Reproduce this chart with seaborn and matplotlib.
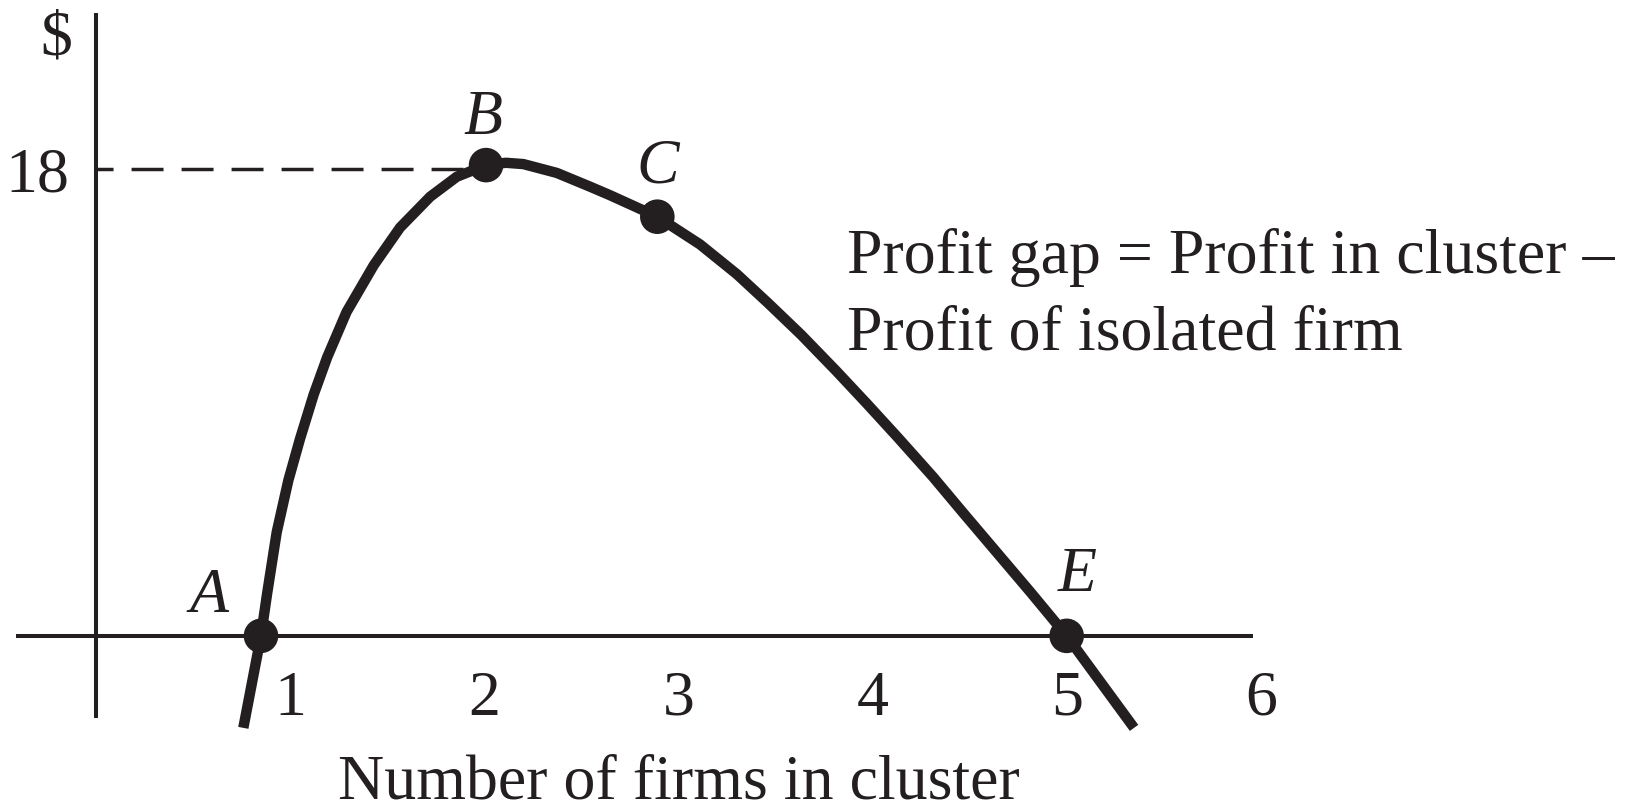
import matplotlib
matplotlib.use("Agg")
import matplotlib.pyplot as plt
import seaborn as sns
import pandas as pd

# ---- data ----
curve_x = [0.758, 0.849, 0.880, 0.930, 0.990, 1.050, 1.120, 1.190, 1.290, 1.430,
           1.565, 1.720, 1.857, 2.008, 2.110, 2.200, 2.372, 2.543, 2.646, 2.890,
           3.110, 3.300, 3.460, 3.630, 3.810, 3.970, 4.130, 4.310, 4.470, 4.640,
           4.810, 4.998, 5.345]
curve_y = [-3.55, 0.0, 1.6, 4.0, 6.0, 7.6, 9.3, 10.75, 12.5, 14.3,
           15.75, 16.94, 17.71, 18.16, 18.25, 18.2, 17.86, 17.33, 17.0, 16.17,
           15.1, 13.95, 12.84, 11.62, 10.23, 8.95, 7.64, 6.13, 4.7, 3.2,
           1.7, 0.0, -3.55]
point_labels = ["A", "B", "C", "E"]
point_x = [0.849, 2.008, 2.890, 4.998]
point_y = [0.0, 18.16, 16.17, 0.0]
x_ticks = [1, 2, 3, 4, 5, 6]
y_ticks = [18]
y_ref = 18
x_title = "Number of firms in cluster"
y_title = "$"
note_lines = ["Profit gap = Profit in cluster \u2013", "Profit of isolated firm"]

INK = "#231f20"
FS = 46

sns.set_theme(style="white")
plt.rcParams["font.family"] = ["Liberation Serif", "DejaVu Serif"]

W, H, DPI = 1637, 809, 100
fig = plt.figure(figsize=(W / DPI, H / DPI), dpi=DPI)
ax = fig.add_axes([0, 0, 1, 1])
ax.set_xlim(-0.495, 7.935)
ax.set_ylim(-6.68, 24.53)
ax.patch.set_alpha(0)

# axes drawn as spines through the origin
for s in ["top", "right"]:
    ax.spines[s].set_visible(False)
ax.spines["left"].set_position(("data", 0))
ax.spines["bottom"].set_position(("data", 0))
ax.spines["left"].set_bounds(-3.18, 24.04)
ax.spines["bottom"].set_bounds(-0.414, 5.957)
for s in ["left", "bottom"]:
    ax.spines[s].set_linewidth(2.9)
    ax.spines[s].set_color(INK)
    ax.spines[s].set_capstyle("butt")

ax.set_xticks(x_ticks)
ax.set_yticks(y_ticks)
ax.set_xticklabels([str(t) for t in x_ticks])
ax.set_yticklabels([str(t) for t in y_ticks])
ax.tick_params(axis="x", length=0, pad=25, labelsize=FS, colors=INK)
ax.tick_params(axis="y", length=0, pad=19, labelsize=FS, colors=INK)

# dashed reference line at 18
ax.plot([0, point_x[1]], [y_ref, y_ref], color=INK, lw=2.5,
        linestyle=(4.3, (9.2, 5.2)), zorder=2)

df = pd.DataFrame({"x": curve_x, "y": curve_y})
sns.lineplot(data=df, x="x", y="y", ax=ax, color=INK, lw=7.5,
             sort=False, estimator=None, zorder=3)
ax.lines[-1].set_solid_capstyle("butt")
ax.lines[-1].set_solid_joinstyle("round")

pts = pd.DataFrame({"x": point_x, "y": point_y, "lab": point_labels})
sns.scatterplot(data=pts, x="x", y="y", ax=ax, color=INK, s=620,
                edgecolor="none", zorder=4)

ax.set_xlabel("")
ax.set_ylabel("")

# point letters
letter_pos = {"A": (0.58, 0.93), "B": (1.994, 19.37), "C": (2.89, 17.48), "E": (5.05, 1.73)}
for lab in point_labels:
    lx, ly = letter_pos[lab]
    ax.text(lx, ly, lab, fontsize=FS, style="italic", ha="center", va="baseline",
            color=INK)

ax.text(-0.205, 23.0, y_title, fontsize=FS, ha="center", va="center", color=INK)
ax.text(3.0, -5.68, x_title, fontsize=FS, ha="center", va="center", color=INK)
ax.text(3.865, 14.0, note_lines[0], fontsize=FS, ha="left", va="baseline", color=INK)
ax.text(3.865, 11.03, note_lines[1], fontsize=FS, ha="left", va="baseline", color=INK)

fig.savefig("out.png", dpi=DPI, facecolor="white")
